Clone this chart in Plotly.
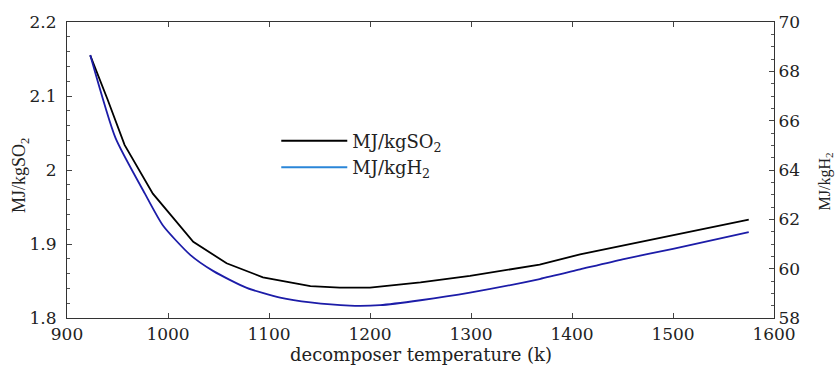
import plotly.graph_objects as go

# Decomposer temperature (K) and specific energy values
temp_so2 = [923, 940, 957, 985, 1001, 1015, 1025, 1058, 1094, 1141, 1170, 1200, 1250, 1299, 1368, 1408, 1450, 1500, 1575]
mj_per_kg_so2 = [2.155, 2.096, 2.034, 1.968, 1.942, 1.920, 1.903, 1.874, 1.855, 1.843, 1.841, 1.841, 1.848, 1.857, 1.872, 1.886, 1.898, 1.912, 1.933]

temp_h2 = [923, 948, 977, 995, 1022, 1045, 1078, 1111, 1141, 1180, 1210, 1250, 1299, 1368, 1408, 1450, 1500, 1575]
mj_per_kg_h2 = [68.66, 65.3, 63.05, 61.75, 60.56, 59.9, 59.22, 58.83, 58.63, 58.5, 58.52, 58.72, 59.03, 59.58, 59.97, 60.38, 60.8, 61.48]

x_ticks = [900, 1000, 1100, 1200, 1300, 1400, 1500, 1600]
y1_ticks = [1.8, 1.9, 2.0, 2.1, 2.2]
y1_labels = ["1.8", "1.9", "2", "2.1", "2.2"]
y2_ticks = [58, 60, 62, 64, 66, 68, 70]

FONT = "DejaVu Serif"
TFONT = "Liberation Serif"

fig = go.Figure()
fig.add_trace(go.Scatter(x=temp_so2, y=mj_per_kg_so2, mode="lines", line=dict(color="#000000", width=1.8),
                         showlegend=False, yaxis="y"))
fig.add_trace(go.Scatter(x=temp_h2, y=mj_per_kg_h2, mode="lines", line=dict(color="#1c1ca8", width=1.8),
                         line_shape="spline", line_smoothing=0.6, showlegend=False, yaxis="y2"))
# legend entries
fig.add_trace(go.Scatter(x=[None], y=[None], mode="lines", line=dict(color="#000000", width=2),
                         name="MJ/kgSO<sub>2</sub>", yaxis="y"))
fig.add_trace(go.Scatter(x=[None], y=[None], mode="lines", line=dict(color="#2a86d8", width=2),
                         name="MJ/kgH<sub>2</sub>", yaxis="y"))

fig.update_layout(
    width=837, height=367,
    margin=dict(l=67, r=63, t=14, b=49),
    paper_bgcolor="white", plot_bgcolor="white",
    font=dict(family=FONT, size=17, color="#222222"),
    showlegend=True,
    legend=dict(x=0.296, y=0.66, xanchor="left", yanchor="top", bgcolor="rgba(0,0,0,0)",
                font=dict(family=FONT, size=18, color="#222222"), itemwidth=66, tracegroupgap=0),
    xaxis=dict(range=[900, 1600], tickvals=x_ticks, ticks="inside", ticklen=5, showline=True,
               linecolor="#333333", linewidth=1.2, mirror="ticks", showgrid=False, zeroline=False),
    yaxis=dict(range=[1.8, 2.2], tickvals=y1_ticks, ticktext=y1_labels, ticks="inside", ticklen=5,
               showline=True, linecolor="#333333", linewidth=1.2, showgrid=False, zeroline=False,
               ticklabelstandoff=6,
               minor=dict(dtick=0.02, ticks="inside", ticklen=3, tickcolor="#555555", showgrid=False)),
    yaxis2=dict(range=[58, 70], tickvals=y2_ticks, ticks="inside", ticklen=5, overlaying="y", side="right",
                showline=True, linecolor="#333333", linewidth=1.2, showgrid=False, zeroline=False,
                minor=dict(dtick=0.5, ticks="inside", ticklen=3, tickcolor="#555555", showgrid=False)),
    annotations=[
        dict(text="decomposer temperature (k)", xref="paper", yref="paper", x=0.5, y=-0.122,
             xanchor="center", yanchor="middle", showarrow=False,
             font=dict(family=FONT, size=18, color="#222222")),
        dict(text="MJ/kgSO<sub>2</sub>", xref="paper", yref="paper", x=-0.065, y=0.48,
             xanchor="center", yanchor="middle", textangle=-90, showarrow=False,
             font=dict(family=TFONT, size=18, color="#222222")),
        dict(text="MJ/kgH<sub>2</sub>", xref="paper", yref="paper", x=1.073, y=0.46,
             xanchor="center", yanchor="middle", textangle=-90, showarrow=False,
             font=dict(family=TFONT, size=16, color="#222222")),
    ],
)

fig.write_html("out.html", config={"displayModeBar": False},
               post_script="document.body.style.margin='0';")
